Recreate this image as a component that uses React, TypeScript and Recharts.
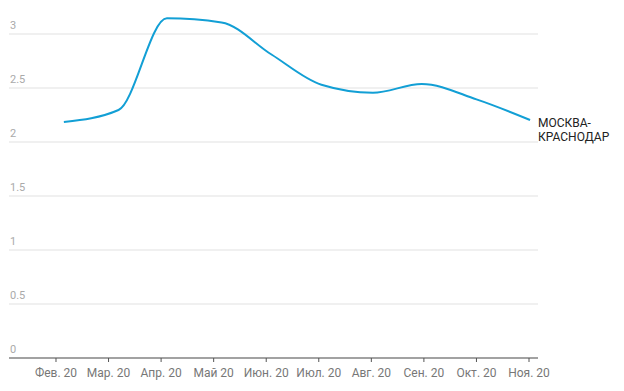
import React from "react";
import { LineChart, Line, XAxis, YAxis, CartesianGrid } from "recharts";

const monthLabels = ["Фев. 20", "Мар. 20", "Апр. 20", "Май 20", "Июн. 20", "Июл. 20", "Авг. 20", "Сен. 20", "Окт. 20", "Ноя. 20"];
const monthTicks = [0, 1, 2, 3, 4, 5, 6, 7, 8, 9];
const pointPositions = [0.15, 1.19, 2.11, 3.15, 4.1, 5.05, 6.03, 6.96, 8.0, 9.02];
const seriesValues = [2.185, 2.296, 3.145, 3.107, 2.81, 2.53, 2.456, 2.537, 2.395, 2.204];
const yTicks = [0, 0.5, 1, 1.5, 2, 2.5, 3];
const seriesName = ["МОСКВА-", "КРАСНОДАР"];

const data = pointPositions.map((x, i) => ({ x, value: seriesValues[i] }));

const renderYTick = (props: any) => {
  const { y, payload } = props;
  return (
    <text key={`yt-${payload.value}`} x={10} y={y - 5} textAnchor="start" fill="#aaaaaa" fontSize={11} fontFamily="Roboto, sans-serif">
      {String(payload.value)}
    </text>
  );
};

const EndLabel = (props: any) => {
  const { x, y, index } = props;
  if (index !== data.length - 1) return null;
  return (
    <text x={x + 8} y={y + 7} fill="#222" fontSize={12} fontFamily="Roboto, sans-serif">
      <tspan x={x + 8}>{seriesName[0]}</tspan>
      <tspan x={x + 8} dy={14}>{seriesName[1]}</tspan>
    </text>
  );
};

export default function App() {
  return (
    <div style={{ position: "absolute", left: 0, top: 0 }}>
      <LineChart width={624} height={391} data={data} margin={{ top: 7, right: 86, bottom: 3, left: 8 }}>
        <CartesianGrid horizontal vertical={false} stroke="#ebebeb" strokeWidth={1.5} horizontalValues={yTicks} />
        <XAxis
          dataKey="x"
          type="number"
          domain={[-0.894, 9.171]}
          ticks={monthTicks}
          tickFormatter={(v: number) => monthLabels[v]}
          stroke="#555"
          tickSize={4}
          tickMargin={6}
          height={30}
          tick={{ fill: "#777", fontSize: 12, fontFamily: "Roboto, sans-serif" }}
          interval={0}
          allowDecimals
        />
        <YAxis
          type="number"
          domain={[0, 3.25]}
          ticks={yTicks}
          width={1}
          axisLine={false}
          tickLine={false}
          interval={0}
          tick={renderYTick}
        />
        <Line
          type="monotone"
          dataKey="value"
          stroke="#129fd5"
          strokeWidth={2}
          dot={false}
          isAnimationActive={false}
          label={<EndLabel />}
        />
      </LineChart>
    </div>
  );
}
